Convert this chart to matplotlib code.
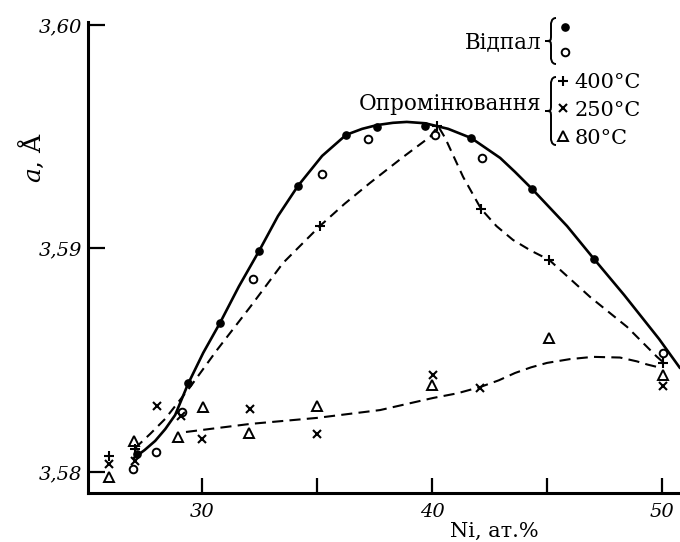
import matplotlib
matplotlib.use("Agg")
import matplotlib.pyplot as plt
from matplotlib.lines import Line2D
from matplotlib.path import Path
from matplotlib.patches import PathPatch
from matplotlib.transforms import Affine2D

plt.rcParams['font.family'] = ['DejaVu Serif']
plt.rcParams['mathtext.fontset'] = 'dejavuserif'
plt.rcParams['lines.scale_dashes'] = False

# --- дані (Ni, ат.%  ->  a, Å) ---
anneal_fill_x = [27.17, 29.39, 30.78, 32.48, 34.17, 36.26, 37.61, 39.70, 41.70, 44.35, 47.04]
anneal_fill_y = [3.58081, 3.58398, 3.58667, 3.58989, 3.59280, 3.59508, 3.59544, 3.59548,
                 3.59494, 3.59266, 3.58953]

anneal_open_x = [27.0, 28.0, 29.13, 32.22, 35.22, 37.22, 40.13, 42.17, 50.04]
anneal_open_y = [3.58013, 3.58089, 3.58268, 3.58864, 3.59333, 3.59490, 3.59508, 3.59405, 3.58532]

irr400_x = [25.96, 27.09, 35.13, 40.22, 42.13, 45.09, 50.04]
irr400_y = [3.58072, 3.58103, 3.59101, 3.59548, 3.59177, 3.58949, 3.58488]

irr250_x = [25.96, 27.09, 28.04, 29.09, 30.0, 32.09, 35.0, 40.04, 42.09, 50.04]
irr250_y = [3.58036, 3.58049, 3.58295, 3.58251, 3.58148, 3.58282, 3.58170, 3.58434,
            3.58376, 3.58385]

irr80_x = [25.96, 27.04, 28.96, 30.04, 32.04, 35.0, 40.0, 45.09, 50.04]
irr80_y = [3.57978, 3.58139, 3.58157, 3.58291, 3.58174, 3.58295, 3.58389, 3.58600, 3.58434]

# криві, проведені від руки (точки зчитані вздовж ліній)
anneal_curve_x = [27.04, 27.50, 27.96, 28.40, 28.83, 29.39, 30.05, 30.78, 31.60, 32.48,
                  33.30, 34.17, 35.22, 36.26, 36.96, 37.61, 38.30, 38.90, 39.70, 40.70,
                  41.70, 42.96, 43.61, 44.35, 45.87, 47.04, 48.35, 49.87, 50.78]
anneal_curve_y = [3.58063, 3.58098, 3.58139, 3.58192, 3.58255, 3.58394, 3.58533, 3.58667,
                  3.58830, 3.58989, 3.59145, 3.59280, 3.59414, 3.59508, 3.59535, 3.59552,
                  3.59562, 3.59566, 3.59560, 3.59535, 3.59494, 3.59405, 3.59342, 3.59266,
                  3.59100, 3.58953, 3.58792, 3.58595, 3.58465]

irr400_curve_x = [27.09, 27.74, 28.39, 29.48, 30.65, 32.09, 33.52, 35.13, 36.20, 37.30,
                  38.74, 39.91, 40.26, 40.57, 41.35, 42.13, 42.80, 43.52, 44.30, 45.09,
                  46.87, 48.48, 49.78, 50.04]
irr400_curve_y = [3.58107, 3.58170, 3.58237, 3.58380, 3.58546, 3.58738, 3.58935, 3.59101,
                  3.59200, 3.59293, 3.59409, 3.59499, 3.59548, 3.59494, 3.59320, 3.59177,
                  3.59100, 3.59038, 3.58990, 3.58949, 3.58783, 3.58649, 3.58515, 3.58492]

irr_low_curve_x = [29.30, 32.09, 35.00, 37.74, 40.04, 41.10, 42.09, 42.90, 43.61, 44.30,
                   45.00, 46.00, 47.00, 48.17, 48.90, 49.35, 49.78]
irr_low_curve_y = [3.58179, 3.58215, 3.58242, 3.58277, 3.58331, 3.58352, 3.58380, 3.58410,
                   3.58443, 3.58468, 3.58488, 3.58505, 3.58515, 3.58512, 3.58495, 3.58481,
                   3.58470]

y_ticks = [3.58, 3.59, 3.60]
y_tick_labels = ['3,58', '3,59', '3,60']
x_ticks = [30, 35, 40, 45, 50]
x_tick_labels = ['30', '', '40', '', '50']
temp_labels = ['400°C', '250°C', '80°C']

W, H = 680, 542
fig = plt.figure(figsize=(W / 100, H / 100), dpi=100)
ax = fig.add_axes([88 / W, 1 - 493 / H, 592 / W, 471 / H])
# пікселі рисунка (y вниз) -> частки фігури
px = Affine2D().scale(1 / W, -1 / H).translate(0, 1) + fig.transFigure

ax.plot(anneal_curve_x, anneal_curve_y, color='black', lw=1.9,
        solid_capstyle='round', solid_joinstyle='round')
ax.plot(irr400_curve_x, irr400_curve_y, color='black', lw=1.5, dashes=(7, 4.5))
ax.plot(irr_low_curve_x, irr_low_curve_y, color='black', lw=1.5, dashes=(8, 4.5))

mk = dict(linestyle='none', color='black', clip_on=False)
ax.plot(anneal_fill_x, anneal_fill_y, marker='o', ms=5.2, **mk)
ax.plot(anneal_open_x, anneal_open_y, marker='o', ms=5.5, mfc='white', mew=1.4, **mk)
ax.plot(irr400_x, irr400_y, marker='+', ms=7.5, mew=1.5, **mk)
ax.plot(irr250_x, irr250_y, marker='x', ms=5.5, mew=1.5, **mk)
ax.plot(irr80_x, irr80_y, marker='^', ms=6.5, mfc='none', mew=1.4, **mk)

ax.set_xlim(25.04, 50.78)
ax.set_ylim(3.57906, 3.60013)
for s in ['top', 'right']:
    ax.spines[s].set_visible(False)
for s in ['left', 'bottom']:
    ax.spines[s].set_linewidth(2.2)

ax.set_xticks(x_ticks)
ax.set_xticklabels(x_tick_labels, fontstyle='italic', fontsize=14)
ax.set_yticks(y_ticks)
ax.set_yticklabels(y_tick_labels, fontstyle='italic', fontsize=14)
ax.tick_params(axis='x', direction='in', length=11, width=1.6, pad=7)
ax.tick_params(axis='y', direction='in', length=12, width=1.6, pad=4)

fig.text(494, 531, 'Ni, ат.%', transform=px, fontsize=15, ha='center', va='center')
fig.text(31, 157, '$a$, Å', transform=px, fontsize=18, rotation=90, ha='center', va='center')

# легенда з фігурними дужками
def brace(x_end, x_mid, x_tip, y0, y1):
    ym = (y0 + y1) / 2
    r = 6
    verts = [(x_end, y0), (x_mid, y0), (x_mid, y0 + r), (x_mid, y0 + r),
             (x_mid, ym - r),
             (x_mid, ym), (x_mid, ym), (x_tip, ym),
             (x_mid, ym), (x_mid, ym), (x_mid, ym + r),
             (x_mid, y1 - r),
             (x_mid, y1 - r), (x_mid, y1), (x_end, y1)]
    codes = [Path.MOVETO, Path.CURVE4, Path.CURVE4, Path.CURVE4,
             Path.LINETO,
             Path.CURVE4, Path.CURVE4, Path.CURVE4,
             Path.CURVE4, Path.CURVE4, Path.CURVE4,
             Path.LINETO,
             Path.CURVE4, Path.CURVE4, Path.CURVE4]
    fig.patches.append(PathPatch(Path(verts, codes), transform=px, fill=False,
                                 lw=1.4, color='black'))

brace(556, 551, 545, 18, 64)
brace(556, 551, 545, 77, 145)
fig.text(541, 42, 'Відпал', transform=px, fontsize=15.5, ha='right', va='center')
fig.text(541, 104, 'Опромінювання', transform=px, fontsize=15.5, ha='right', va='center')

h_anneal = [Line2D([], [], marker='o', ms=5.2, color='black', ls='none'),
            Line2D([], [], marker='o', ms=5.5, mfc='white', mew=1.4, color='black', ls='none')]
leg1 = fig.legend(h_anneal, ['', ''], loc='upper left', bbox_to_anchor=(560 / W, 1 - 20 / H),
                  frameon=False, fontsize=12, handlelength=0.6, handletextpad=0.2,
                  labelspacing=0.5, borderpad=0, borderaxespad=0)
h_irr = [Line2D([], [], marker='+', ms=7.5, mew=1.5, color='black', ls='none'),
         Line2D([], [], marker='x', ms=5.5, mew=1.5, color='black', ls='none'),
         Line2D([], [], marker='^', ms=6.5, mfc='none', mew=1.4, color='black', ls='none')]
leg2 = fig.legend(h_irr, temp_labels, loc='upper left', bbox_to_anchor=(557 / W, 1 - 73 / H),
                  frameon=False, fontsize=15, handlelength=0.6, handletextpad=0.25,
                  labelspacing=0.42, borderpad=0, borderaxespad=0)

fig.savefig('out.png', dpi=100)
